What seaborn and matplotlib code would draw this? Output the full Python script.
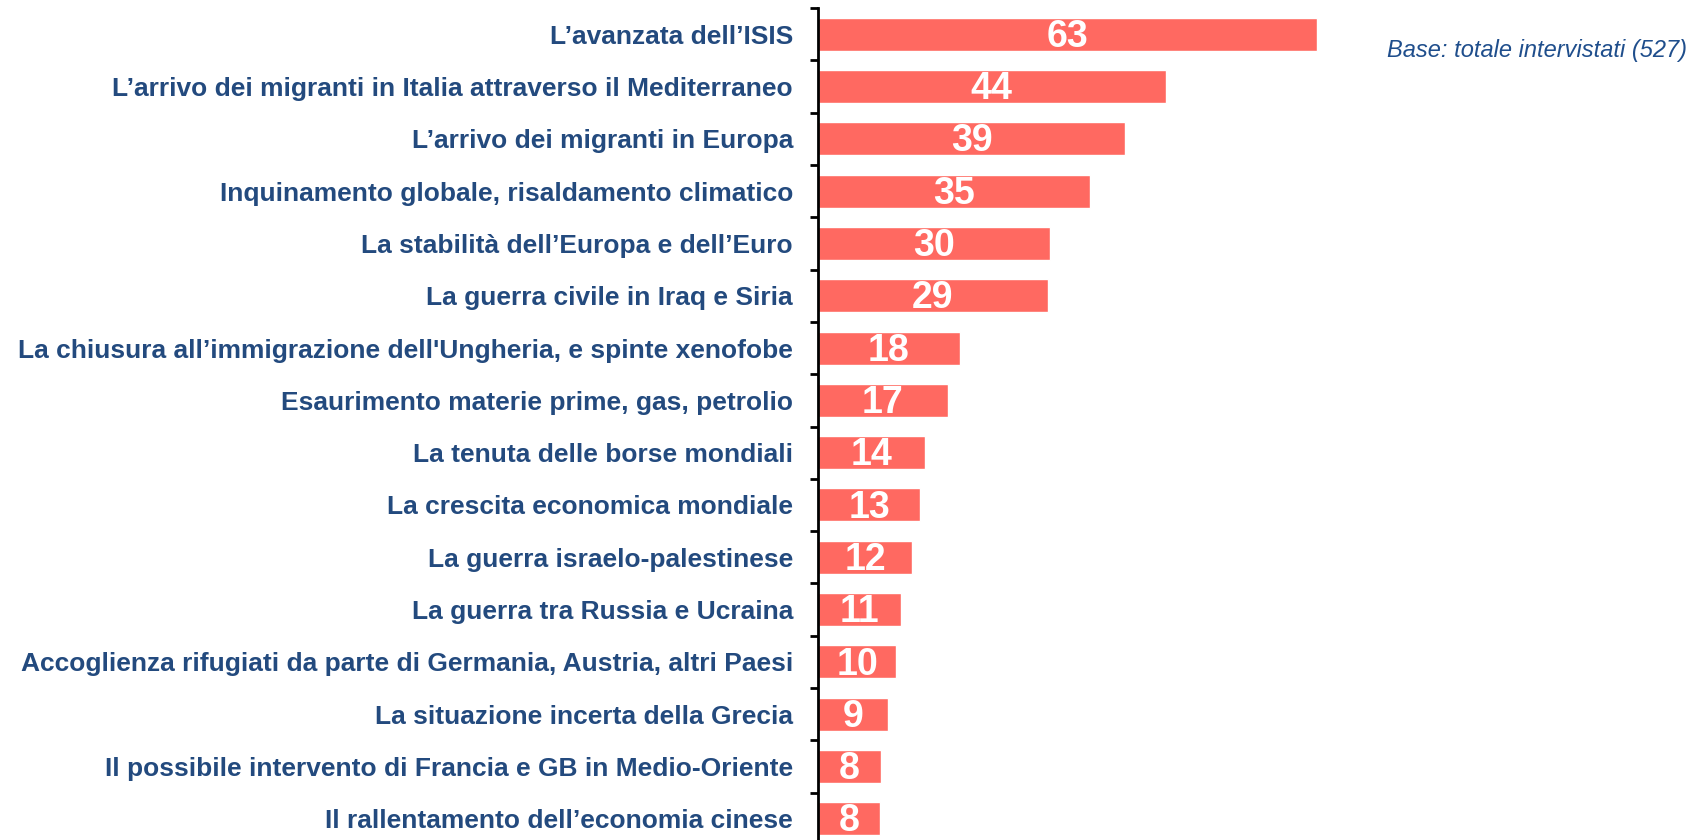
import pandas as pd
import matplotlib.pyplot as plt
import seaborn as sns
import numpy as np

# Data
topics = [
    "L’avanzata dell’ISIS",
    "L’arrivo dei migranti in Italia attraverso il Mediterraneo",
    "L’arrivo dei migranti in Europa",
    "Inquinamento globale, risaldamento climatico",
    "La stabilità dell’Europa e dell’Euro",
    "La guerra civile in Iraq e Siria",
    "La chiusura all’immigrazione dell'Ungheria, e spinte xenofobe",
    "Esaurimento materie prime, gas, petrolio",
    "La tenuta delle borse mondiali",
    "La crescita economica mondiale",
    "La guerra israelo-palestinese",
    "La guerra tra Russia e Ucraina",
    "Accoglienza rifugiati da parte di Germania, Austria, altri Paesi",
    "La situazione incerta della Grecia",
    "Il possibile intervento di Francia e GB in Medio-Oriente",
    "Il rallentamento dell’economia cinese",
]
values = [63, 44, 39, 35, 30, 29, 18, 17, 14, 13, 12, 11, 10, 9, 8, 8]
# bar lengths as drawn in the original (unrounded)
bar_lengths = [63, 43.9, 38.8, 34.3, 29.3, 29.0, 17.9, 16.4, 13.5, 12.9, 11.9, 10.5, 9.9, 8.8, 7.95, 7.8]

df = pd.DataFrame({"topic": topics, "value": bar_lengths, "label": values})

sns.set_style("white")
plt.rcParams['font.family'] = ['Liberation Sans', 'DejaVu Sans']

fig = plt.figure(figsize=(17.08, 8.4), dpi=100)
ax = fig.add_axes([818 / 1708, -5 / 840, 882 / 1708, 837 / 840])

sns.barplot(data=df, x="value", y="topic", color="#FF6961", saturation=1,
            width=0.63, ax=ax, orient="h")

ax.set_xlim(0, 882 / 7.92)
ax.set_ylim(len(topics) - 0.5, -0.5)
ax.set_xlabel("")
ax.set_ylabel("")
ax.set_xticks([])

for s in ["top", "right", "bottom"]:
    ax.spines[s].set_visible(False)
ax.spines["left"].set_color("black")
ax.spines["left"].set_linewidth(2)

ax.set_yticks(range(len(topics)))
ax.set_yticklabels(topics, fontsize=19, fontweight="bold", color="#234A7E")
ax.tick_params(axis="y", which="major", length=0, pad=18)
ax.set_yticks(np.arange(-0.5, len(topics) - 0.5, 1), minor=True)
ax.tick_params(axis="y", which="minor", length=6, width=2, color="black", left=True)

for i, (v, lab) in enumerate(zip(bar_lengths, values)):
    ax.text(v / 2, i + 0.05, str(lab), ha="center", va="center",
            fontsize=27, fontweight="bold", color="white")

fig.text(1687 / 1708, 1 - 51 / 840, "Base: totale intervistati (527)",
         ha="right", va="center", fontsize=17, style="italic", color="#1F4E8C")

plt.savefig("out.png", dpi=100)
